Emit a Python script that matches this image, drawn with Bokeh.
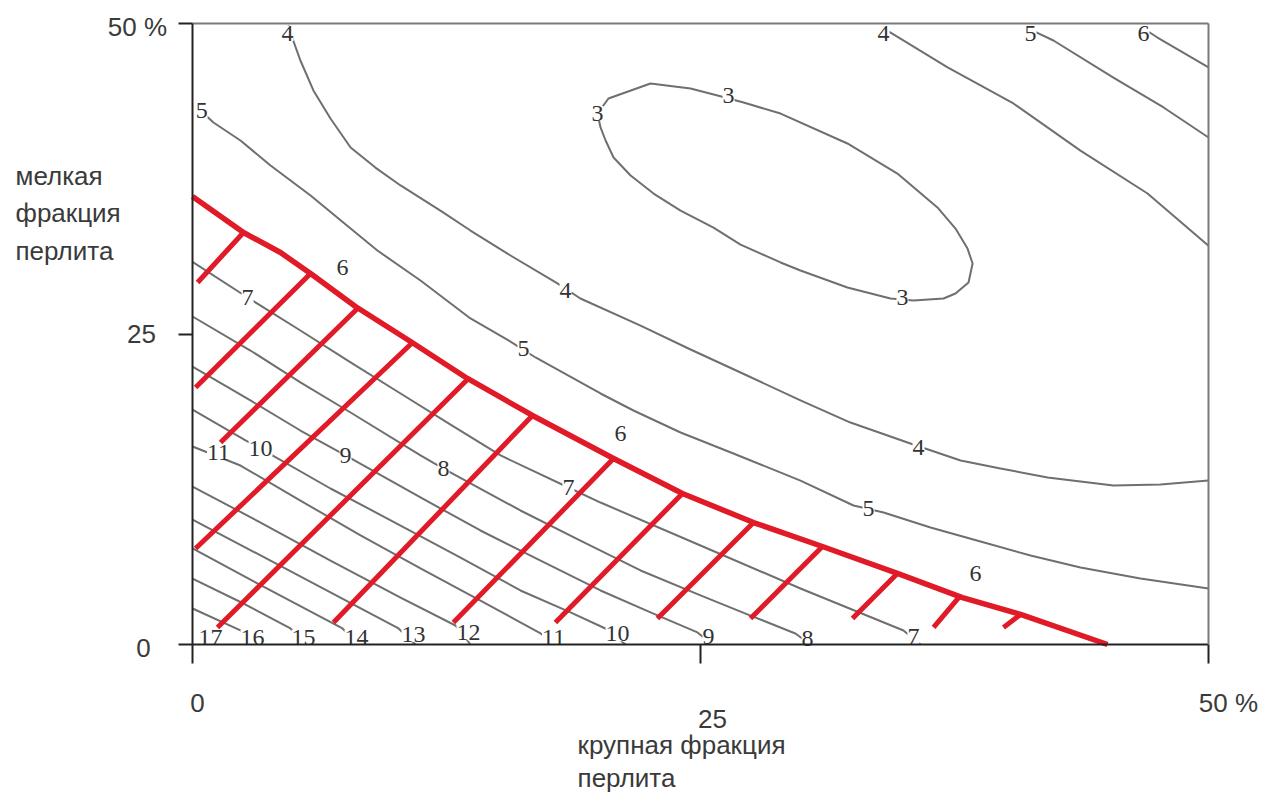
from bokeh.plotting import figure
from bokeh.models import Range1d, FixedTicker, LinearAxis
from bokeh.core.properties import value
from bokeh.embed import file_html
from bokeh.resources import INLINE

# ---------------- data (axes in %) ----------------
ticks = [0, 25, 50]
x_tick_labels = ["0", "25", "50 %"]
y_tick_labels = ["0", "25", "50 %"]
x_title = ["крупная фракция", "перлита"]
y_title = ["мелкая", "фракция", "перлита"]

# level 3 (closed)
c3_x = [19.93, 20.47, 22.54, 24.51, 25.84, 27.12, 28.94, 32.23, 34.69, 36.66, 37.55, 38.14, 38.39,
        38.19, 37.55, 36.96, 35.48, 34.35, 32.23, 29.92, 28.94, 26.97, 25.64, 24.02, 22.69, 21.56,
        20.72, 20.33, 20.08, 19.93]
c3_y = [42.75, 43.96, 45.17, 44.77, 44.20, 43.64, 42.75, 40.34, 37.92, 35.19, 33.49, 31.88, 30.68,
        29.15, 28.26, 27.86, 27.70, 27.86, 28.74, 30.11, 30.76, 32.20, 33.57, 34.94, 36.31, 37.76,
        39.21, 40.58, 41.63, 42.75]
# level 4 (main)
c4_x = [4.72, 4.87, 5.31, 5.95, 6.79, 7.78, 9.00, 10.24, 12.20, 13.68, 15.65, 17.96, 19.09, 22.05,
        24.51, 26.97, 29.92, 32.38, 35.33, 37.80, 39.76, 42.08, 45.32, 47.64, 50.0]
c4_y = [49.84, 49.03, 47.02, 44.61, 42.35, 40.02, 38.40, 36.96, 34.94, 33.33, 31.32, 29.07, 27.86,
        25.68, 23.75, 21.90, 19.65, 17.87, 16.18, 14.81, 14.17, 13.45, 12.80, 12.88, 13.20]
# level 4 (upper right)
c4b_x = [34.01, 34.84, 37.16, 40.40, 43.70, 47.00, 50.0]
c4b_y = [49.6, 48.79, 46.46, 43.56, 39.77, 36.31, 32.10]
# level 5 (main)
c5_x = [0.39, 1.03, 2.36, 3.84, 5.81, 7.78, 9.10, 11.22, 13.68, 15.55, 16.88, 20.08, 21.70, 24.02,
        26.62, 29.92, 32.53, 34.01, 36.32, 38.78, 41.24, 43.70, 46.65, 50.0]
c5_y = [43.0, 42.03, 40.58, 38.57, 36.15, 33.49, 31.72, 29.31, 26.25, 24.48, 23.11, 20.21, 18.84,
        17.07, 15.38, 13.20, 11.19, 10.63, 9.42, 8.29, 7.17, 6.20, 5.31, 4.51]
# level 5 (upper right)
c5b_x = [41.24, 42.37, 45.32, 47.79, 50.0]
c5b_y = [49.5, 48.63, 45.65, 43.24, 40.82]
# level 6 (upper right)
c6b_x = [46.80, 47.49, 50.0]
c6b_y = [49.6, 48.87, 46.46]
# level 6 = boundary of the admissible region (red)
c6_x = [0.0, 2.51, 4.33, 5.81, 8.02, 10.73, 13.53, 16.73, 20.72, 24.11, 27.61, 31.00, 34.69, 37.89,
        40.75, 45.03]
c6_y = [36.07, 33.17, 31.56, 29.87, 27.21, 24.40, 21.42, 18.44, 14.98, 12.16, 9.82, 7.89, 5.72, 3.78,
        2.42, 0.0]
# levels 7..16 inside the hatched region
c7_x = [0.0, 2.71, 5.31, 7.78, 10.24, 12.70, 15.16, 18.50, 20.08, 25.00, 29.92, 34.99, 35.83]
c7_y = [30.80, 27.94, 25.28, 22.71, 20.21, 17.71, 15.22, 12.64, 11.43, 7.97, 4.51, 1.13, 0.0]
c8_x = [0.0, 2.85, 5.31, 7.78, 11.22, 12.35, 16.14, 19.09, 22.05, 25.00, 27.46, 29.67, 30.41]
c8_y = [26.41, 23.67, 21.10, 18.68, 15.22, 14.17, 10.79, 8.37, 5.96, 3.95, 2.33, 0.89, 0.0]
c9_x = [0.0, 2.85, 5.31, 7.53, 11.22, 14.17, 17.13, 20.08, 22.54, 24.85, 25.59]
c9_y = [22.38, 19.65, 17.23, 15.22, 11.84, 9.18, 6.76, 4.35, 2.58, 0.97, 0.0]
c10_x = [0.0, 2.61, 3.35, 6.79, 10.24, 13.19, 16.14, 18.60, 20.32, 21.31]
c10_y = [18.92, 16.43, 15.78, 12.56, 9.58, 7.00, 4.35, 2.58, 1.29, 0.0]
c11_x = [0.0, 2.36, 5.31, 8.27, 11.22, 14.17, 17.13, 17.86]
c11_y = [15.94, 14.41, 11.59, 8.78, 6.12, 3.54, 0.89, 0.0]
c12_x = [0.0, 3.35, 6.79, 10.24, 12.94, 13.68]
c12_y = [12.72, 9.82, 6.76, 3.78, 1.53, 0.0]
c13_x = [0.0, 3.35, 6.79, 10.14, 10.97]
c13_y = [10.06, 7.17, 4.19, 1.29, 0.0]
c14_x = [0.0, 3.84, 7.38, 8.17]
c14_y = [7.73, 4.35, 1.29, 0.0]
c15_x = [0.0, 2.61, 4.82, 5.56]
c15_y = [5.31, 3.22, 1.29, 0.0]
c16_x = [0.0, 2.36, 2.95]
c16_y = [2.90, 1.13, 0.0]

# red hatch strokes (from the boundary inwards)
hatch_x0 = [2.51, 5.81, 8.12, 10.83, 13.58, 16.73, 20.72, 24.11, 27.61, 31.00, 34.69, 37.80, 40.75]
hatch_y0 = [33.17, 29.87, 27.05, 24.32, 21.42, 18.44, 14.98, 12.16, 9.82, 7.89, 5.72, 3.95, 2.42]
hatch_x1 = [0.25, 0.15, 1.38, 0.15, 1.23, 6.94, 12.84, 17.86, 22.88, 27.46, 32.48, 36.47, 39.91]
hatch_y1 = [29.15, 20.69, 16.26, 7.73, 1.37, 1.77, 1.77, 1.77, 2.09, 2.09, 2.09, 1.37, 1.37]

# contour labels
lab_text = ["3", "3", "3", "4", "4", "4", "4", "5", "5", "5", "5", "6", "6", "6", "6",
            "7", "7", "7", "8", "8", "9", "9", "10", "10", "11", "11", "12", "13", "14", "15", "16", "17"]
lab_x = [19.93, 26.38, 34.94, 18.36, 35.73, 4.68, 34.01, 0.45, 16.29, 33.27, 41.24, 7.38, 21.06, 38.53, 46.80,
         2.71, 18.50, 35.48, 12.35, 30.27, 7.53, 25.39, 3.35, 20.92, 1.28, 17.77, 13.58, 10.88, 8.07, 5.46, 2.95, 0.89]
lab_y = [42.75, 44.20, 27.94, 28.50, 15.86, 49.2, 49.2, 43.0, 23.83, 10.95, 49.2, 30.35, 16.99, 5.72, 49.2,
         27.94, 12.64, 0.62, 14.17, 0.50, 15.22, 0.62, 15.78, 0.85, 15.46, 0.55, 0.95, 0.80, 0.58, 0.58, 0.58, 0.58]

# ---------------- figure ----------------
W, H = 1262, 794
px_left, px_per_x = 192.0, 20.32      # screen position of x = 0 and pixels per unit
px_zero_y, px_per_y = 644.0, 12.42    # screen position of y = 0 and pixels per unit
x_range = Range1d(-px_left / px_per_x, (W - px_left) / px_per_x)
y_range = Range1d(-(H - px_zero_y) / px_per_y, px_zero_y / px_per_y)

p = figure(width=W, height=H, x_range=x_range, y_range=y_range,
           output_backend="svg", toolbar_location=None,
           min_border_left=0, min_border_right=0, min_border_top=0, min_border_bottom=0)
p.background_fill_color = "white"
p.border_fill_color = "white"
p.outline_line_color = None
p.xgrid.visible = False
p.ygrid.visible = False

for ax in (p.xaxis[0], p.yaxis[0]):
    ax.fixed_location = 0
    ax.bounds = (0, 50)
    ax.ticker = FixedTicker(ticks=ticks)
    ax.major_label_text_color = None
    ax.minor_tick_line_color = None
    ax.axis_line_color = "#222222"
    ax.axis_line_width = 2
    ax.major_tick_line_color = "#222222"
    ax.major_tick_line_width = 2
    ax.major_tick_in = 0
p.xaxis.major_tick_out = 19
p.yaxis.major_tick_out = 14

for loc in ("above", "right"):
    bax = LinearAxis(fixed_location=50, bounds=(0, 50), ticker=FixedTicker(ticks=[]),
                     axis_line_color="#7a7a7a", axis_line_width=2, major_label_text_color=None,
                     major_tick_line_color=None, minor_tick_line_color=None)
    p.add_layout(bax, loc)

gray = "#6f6f6f"
contours = [(c3_x, c3_y), (c4_x, c4_y), (c4b_x, c4b_y), (c5_x, c5_y), (c5b_x, c5b_y), (c6b_x, c6b_y),
            (c7_x, c7_y), (c8_x, c8_y), (c9_x, c9_y), (c10_x, c10_y), (c11_x, c11_y), (c12_x, c12_y),
            (c13_x, c13_y), (c14_x, c14_y), (c15_x, c15_y), (c16_x, c16_y)]
p.multi_line(xs=[c[0] for c in contours], ys=[c[1] for c in contours],
             line_color=gray, line_width=2, line_join="round")

p.text(x=lab_x, y=lab_y, text=lab_text, text_font=value("Liberation Serif"), text_font_size="24px",
       text_color="#333333", text_align="center", text_baseline="middle",
       background_fill_color="white")

red = "#e01a26"
p.segment(x0=hatch_x0, y0=hatch_y0, x1=hatch_x1, y1=hatch_y1, line_color=red, line_width=5)
p.line(c6_x, c6_y, line_color=red, line_width=5.5, line_join="round")

# tick labels and titles (texts outside the 0..50 box)
sans = value("Liberation Sans")
tc = "#3a3a3a"
fs = "26px"
x_lab_dx = [0.25, 0.59, 0.98]
x_lab_y = [-4.75, -5.96, -4.75]
p.text(x=[t + d for t, d in zip(ticks, x_lab_dx)], y=x_lab_y, text=x_tick_labels, text_font=sans,
       text_font_size=fs, text_color=tc, text_align="center", text_baseline="middle")
y_lab_x = [-2.41, -2.51, -2.71]
y_lab_dy = [-0.32, 0.04, -0.32]
p.text(x=y_lab_x, y=[t + d for t, d in zip(ticks, y_lab_dy)], text=y_tick_labels, text_font=sans,
       text_font_size=fs, text_color=tc, text_align="center", text_baseline="middle")
p.text(x=[-8.71] * len(y_title), y=[37.76 - i * 3.02 for i in range(len(y_title))], text=y_title,
       text_font=sans, text_font_size=fs, text_color=tc, text_align="left", text_baseline="middle")
p.text(x=[18.95] * len(x_title), y=[-8.13 - i * 2.58 for i in range(len(x_title))], text=x_title,
       text_font=sans, text_font_size=fs, text_color=tc, text_align="left", text_baseline="middle")

open("out.html", "w").write(file_html(p, INLINE))
